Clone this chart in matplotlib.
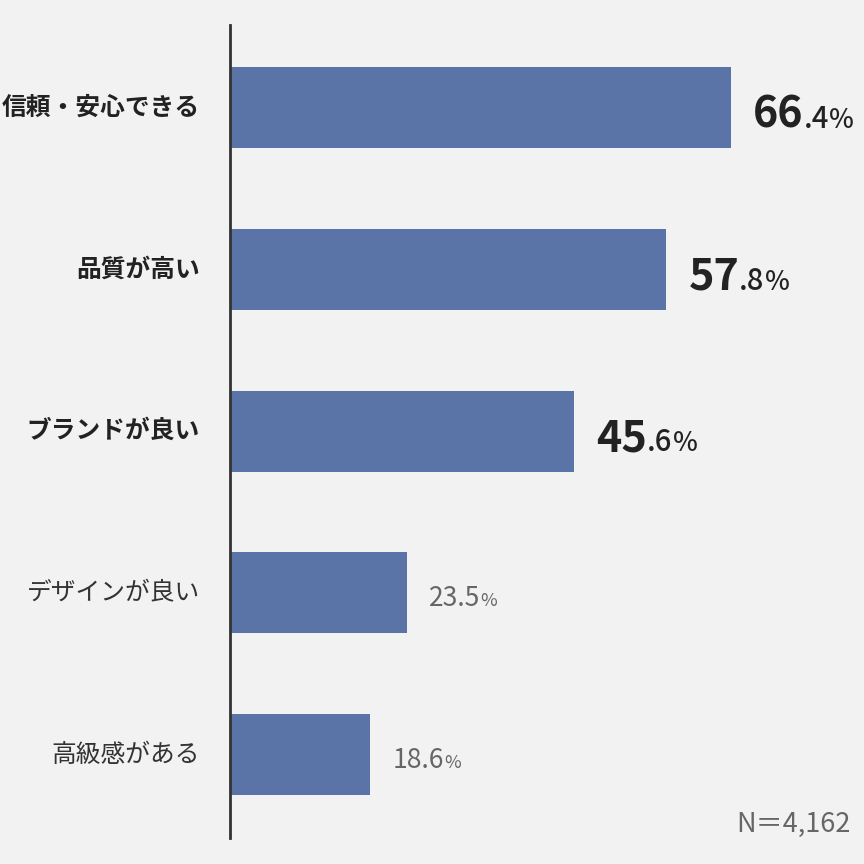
# Horizontal bar chart: reasons for choosing (Japanese survey, N=4,162)

import matplotlib
matplotlib.use("Agg")
import matplotlib.pyplot as plt

# Data
categories = ["信頼・安心できる", "品質が高い", "ブランドが良い", "デザインが良い", "高級感がある"]
values = [66.4, 57.8, 45.6, 23.5, 18.6]
highlight = [True, True, True, False, False]
sample_note = "N＝4,162"

# Style
plt.rcParams["font.family"] = ["Noto Sans CJK JP", "DejaVu Sans"]
bg = "#f2f2f2"
bar_color = "#5a74a8"

fig = plt.figure(figsize = (8.64, 8.64), dpi = 100, facecolor = bg)
ax = fig.add_axes([230 / 864, 26 / 864, 634 / 864, 813 / 864], facecolor = bg)

y_pos = list(range(len(categories)))
ax.barh(y_pos, values, height = 0.5, color = bar_color)

ax.set_xlim(0, 634 / 7.55)
ax.set_ylim(4.515, -0.51)
for side in ["top", "right", "bottom"]:
    ax.spines[side].set_visible(False)
ax.spines["left"].set_linewidth(2)
ax.spines["left"].set_color("#333333")
ax.set_xticks([])
ax.set_yticks([])

# Category labels on the left
for y, cat, hl in zip(y_pos, categories, highlight):
    ax.text(-30 / 7.55, y, cat, ha = "right", va = "center", fontsize = 17.8,
            fontweight = "bold" if hl else "normal", color = "#222222" if hl else "#333333")

# Value labels: mixed sizes on a common baseline
fig.canvas.draw()
renderer = fig.canvas.get_renderer()
inv = ax.transData.inverted()

def put_parts(x0, y, parts):
    x = x0
    for txt, size, weight, color in parts:
        t = ax.text(x, y, txt, ha = "left", va = "baseline", fontsize = size,
                    fontweight = weight, color = color)
        bb = t.get_window_extent(renderer)
        x = inv.transform((bb.x1, 0))[0]

for y, v, hl in zip(y_pos, values, highlight):
    whole, dec = f"{v:.1f}".split(".")
    x0 = v + 22 / 7.55
    if hl:
        put_parts(x0, y + 0.125, [(whole, 31, "bold", "#222222"),
                                  ("." + dec, 21, "medium", "#222222"),
                                  ("%", 19, "medium", "#222222")])
    else:
        put_parts(x0, y + 0.08, [(f"{v:.1f}", 19, "normal", "#666666"),
                                 ("%", 13, "normal", "#666666")])

# Sample size note
fig.text(851 / 864, 32 / 864, sample_note, ha = "right", va = "baseline",
         fontsize = 19.5, color = "#666666")
fig.savefig("out.png", dpi = 100, facecolor = bg)
